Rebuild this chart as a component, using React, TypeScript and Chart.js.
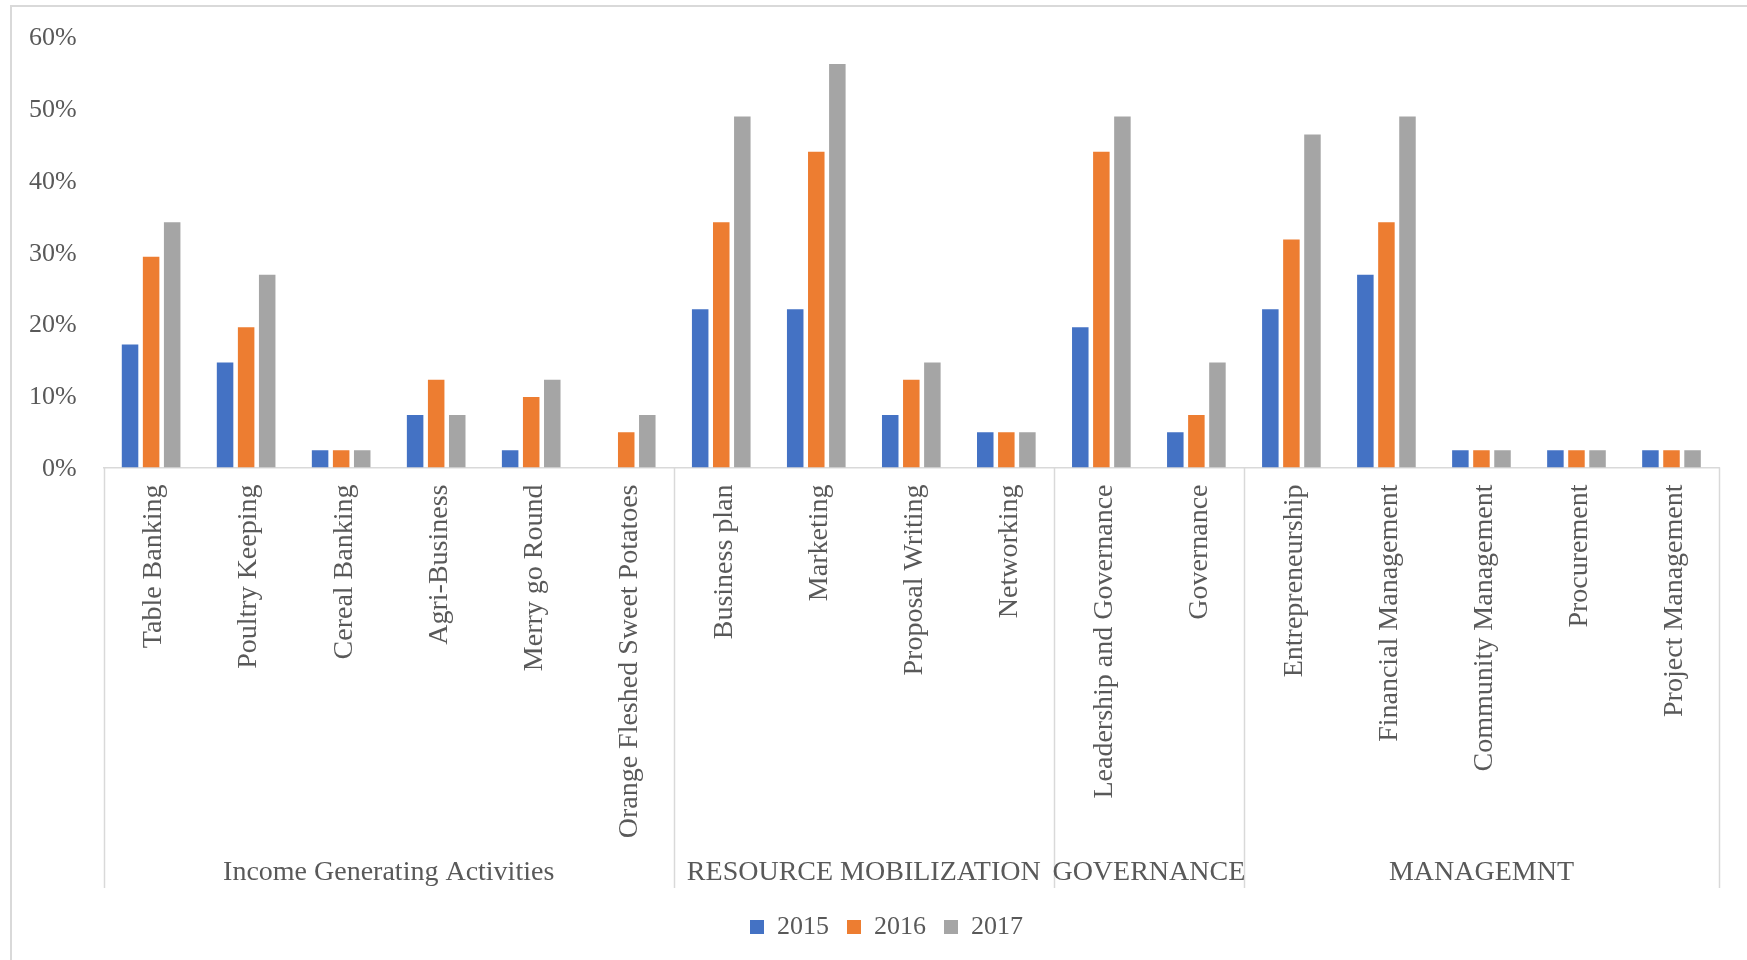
import React, { useEffect, useRef } from "react";
import { Chart, registerables } from "chart.js";

Chart.register(...registerables);

const categories = [
  "Table Banking",
  "Poultry Keeping",
  "Cereal Banking",
  "Agri-Business",
  "Merry go Round",
  "Orange Fleshed Sweet Potatoes",
  "Business plan",
  "Marketing",
  "Proposal Writing",
  "Networking",
  "Leadership and Governance",
  "Governance",
  "Entrepreneurship",
  "Financial Management",
  "Community Management",
  "Procurement",
  "Project Management",
];

const groupNames = [
  "Income Generating Activities",
  "RESOURCE MOBILIZATION",
  "GOVERNANCE",
  "MANAGEMNT",
];
const groupSizes = [6, 4, 2, 5];

const values2015 = [17.1, 14.6, 2.4, 7.3, 2.4, 0, 22.0, 22.0, 7.3, 4.9, 19.5, 4.9, 22.0, 26.8, 2.4, 2.4, 2.4];
const values2016 = [29.3, 19.5, 2.4, 12.2, 9.8, 4.9, 34.1, 43.9, 12.2, 4.9, 43.9, 7.3, 31.7, 34.1, 2.4, 2.4, 2.4];
const values2017 = [34.1, 26.8, 2.4, 7.3, 12.2, 7.3, 48.8, 56.1, 14.6, 4.9, 48.8, 14.6, 46.3, 48.8, 2.4, 2.4, 2.4];

const seriesLabels = ["2015", "2016", "2017"];
const seriesColors = ["#4472C4", "#ED7D31", "#A5A5A5"];

const yTicks = [0, 10, 20, 30, 40, 50, 60];

const FONT = "'Liberation Serif', 'Times New Roman', serif";
const TEXT = "#595959";
const LINE = "#d9d9d9";

const groupPlugin = {
  id: "groupPlugin",
  afterLayout(chart: any) {
    const lg = chart.legend;
    if (lg) {
      lg.left += 17;
      lg.right += 17;
    }
  },
  beforeDraw(chart: any) {
    const ctx = chart.ctx;
    ctx.save();
    ctx.strokeStyle = LINE;
    ctx.lineWidth = 2;
    ctx.strokeRect(11, 6, 3000, 3000);
    ctx.restore();
  },
  afterDraw(chart: any) {
    const ctx = chart.ctx;
    const x = chart.scales.x;
    const area = chart.chartArea;
    const lineBottom = 888;
    const bounds = [0];
    groupSizes.forEach((s, i) => bounds.push(bounds[i] + s));
    ctx.save();
    ctx.strokeStyle = LINE;
    ctx.lineWidth = 1.5;
    bounds.forEach((b) => {
      const px = Math.round(x.getPixelForValue(b - 0.5)) + 0.5;
      ctx.beginPath();
      ctx.moveTo(px, area.bottom);
      ctx.lineTo(px, lineBottom);
      ctx.stroke();
    });
    ctx.fillStyle = TEXT;
    ctx.font = `28px ${FONT}`;
    ctx.textAlign = "center";
    ctx.textBaseline = "alphabetic";
    groupNames.forEach((name, i) => {
      const a = x.getPixelForValue(bounds[i] - 0.5);
      const b = x.getPixelForValue(bounds[i + 1] - 0.5);
      ctx.fillText(name, (a + b) / 2, 880);
    });
    ctx.restore();
  },
};

export default function App() {
  const ref = useRef<HTMLCanvasElement | null>(null);

  useEffect(() => {
    if (!ref.current) return;
    const datasets = [values2015, values2016, values2017].map((d, i) => ({
      label: seriesLabels[i],
      data: d,
      backgroundColor: seriesColors[i],
      borderWidth: 0,
      categoryPercentage: 0.665,
      barPercentage: 0.784,
    }));
    const chart = new Chart(ref.current, {
      type: "bar",
      data: { labels: categories, datasets },
      options: {
        responsive: false,
        animation: false,
        layout: { padding: { left: 20, right: 28, top: 36, bottom: 10 } },
        plugins: {
          legend: {
            position: "bottom",
            labels: {
              boxWidth: 14,
              boxHeight: 14,
              padding: 18,
              color: TEXT,
              font: { family: FONT, size: 26 },
            },
          },
          tooltip: { enabled: false },
        },
        scales: {
          x: {
            grid: { display: false, drawTicks: false },
            border: { display: true, color: LINE, width: 1.5 },
            ticks: {
              autoSkip: false,
              minRotation: 90,
              maxRotation: 90,
              padding: 17,
              labelOffset: 3,
              color: TEXT,
              font: { family: FONT, size: 28 },
            },
            afterFit: (s: any) => {
              s.height = 428.5;
            },
          },
          y: {
            min: 0,
            max: 60,
            afterBuildTicks: (s: any) => {
              s.ticks = yTicks.map((v) => ({ value: v }));
            },
            grid: { display: false, drawTicks: false },
            border: { display: false },
            ticks: {
              padding: 27,
              labelOffset: 2,
              color: TEXT,
              font: { family: FONT, size: 26, lineHeight: 0.6 },
              callback: (v: any) => `${v}%`,
            },
            afterFit: (s: any) => {
              s.width = 83.6;
            },
          },
        },
      },
      plugins: [groupPlugin],
    });
    return () => chart.destroy();
  }, []);

  return (
    <div style={{ position: "absolute", left: 0, top: 0, width: 1747, height: 960, background: "#fff", overflow: "hidden" }}>
      <canvas ref={ref} width={1747} height={960} style={{ display: "block" }} />
    </div>
  );
}
